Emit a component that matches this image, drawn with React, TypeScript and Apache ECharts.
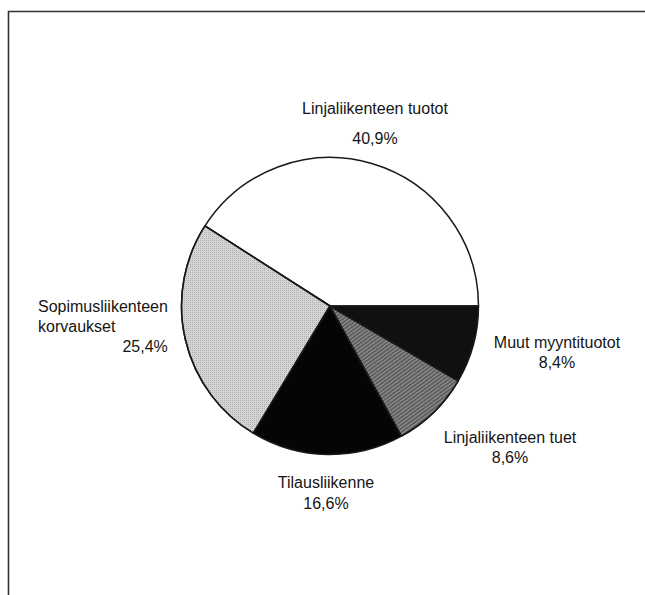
import React, { useEffect, useRef } from "react";
import * as echarts from "echarts";

const categories = [
  "Linjaliikenteen tuotot",
  "Sopimusliikenteen korvaukset",
  "Tilausliikenne",
  "Linjaliikenteen tuet",
  "Muut myyntituotot",
];
const shares = [40.9, 25.4, 16.6, 8.6, 8.4];

const sliceColors = ["#ffffff", "#d4d4d4", "#050505", "#828282", "#101010"];

// label placement (layout only)
const labelPos = [
  { x: 375, y: 123, align: "center", lh: 30, wrap: false },
  { x: 38, y: 326, align: "left", lh: 20, wrap: true },
  { x: 326, y: 493, align: "center", lh: 21, wrap: false },
  { x: 510, y: 447, align: "center", lh: 20, wrap: false },
  { x: 557, y: 352, align: "center", lh: 20, wrap: false },
];

const FONT = "'Liberation Sans', Arial, Helvetica, sans-serif";

const fmt = (v: number) => v.toFixed(1).replace(".", ",") + "%";

export default function App() {
  const ref = useRef<HTMLDivElement>(null);
  useEffect(() => {
    if (!ref.current) return;
    const chart = echarts.init(ref.current, undefined, { renderer: "svg" });

    const decals: any[] = [
      undefined,
      {
        symbol: "rect",
        symbolSize: 1,
        dashArrayX: [1, 1],
        dashArrayY: [1, 1],
        color: "rgba(0,0,0,0.16)",
      },
      undefined,
      {
        symbol: "rect",
        symbolSize: 1,
        dashArrayX: [1, 0],
        dashArrayY: [1, 1.5],
        rotation: -Math.PI / 5,
        color: "rgba(0,0,0,0.4)",
      },
      undefined,
    ];

    const data = categories.map((name, i) => {
      const p = labelPos[i];
      const nameText = p.wrap
        ? name
            .split(" ")
            .map((s) => `{n|${s}}`)
            .join("\n")
        : `{n|${name}}`;
      return {
        name,
        value: shares[i],
        itemStyle: {
          color: sliceColors[i],
          decal: decals[i],
        },
        label: {
          formatter: `${nameText}\n{${p.wrap ? "pr" : "p"}|${fmt(shares[i])}}`,
          lineHeight: p.lh,
          rich: {
            n: { fontSize: 16, fontFamily: FONT, color: "#151515", lineHeight: p.lh },
            p: { fontSize: 16, fontFamily: FONT, color: "#151515", lineHeight: p.lh },
            pr: {
              fontSize: 16,
              fontFamily: FONT,
              color: "#151515",
              lineHeight: p.lh,
              align: "right",
            },
          },
        },
      };
    });

    chart.setOption({
      animation: false,
      backgroundColor: "#ffffff",
      aria: { enabled: false, decal: { show: false } },
      graphic: [
        {
          type: "line",
          shape: { x1: 8.5, y1: 11, x2: 8.5, y2: 595 },
          style: { stroke: "#333333", lineWidth: 1.6 },
          silent: true,
        },
        {
          type: "line",
          shape: { x1: 8, y1: 11.5, x2: 645, y2: 11.5 },
          style: { stroke: "#333333", lineWidth: 1.6 },
          silent: true,
        },
      ],
      series: [
        {
          type: "pie",
          center: [330, 306],
          radius: 148.5,
          startAngle: 0,
          clockwise: false,
          avoidLabelOverlap: false,
          silent: true,
          emphasis: { disabled: true },
          itemStyle: { borderColor: "#1a1a1a", borderWidth: 1.5 },
          label: {
            show: true,
            position: "outside",
            fontSize: 16,
            fontFamily: FONT,
            color: "#151515",
          },
          labelLine: { show: false },
          labelLayout: (params: any) => {
            const p = labelPos[params.dataIndex];
            return {
              x: p.x,
              y: p.y,
              align: p.align,
              verticalAlign: "middle",
              hideOverlap: false,
            };
          },
          data,
        },
      ],
    });
    return () => chart.dispose();
  }, []);
  return (
    <div
      ref={ref}
      style={{ position: "fixed", left: 0, top: 0, width: 645, height: 595 }}
    />
  );
}
